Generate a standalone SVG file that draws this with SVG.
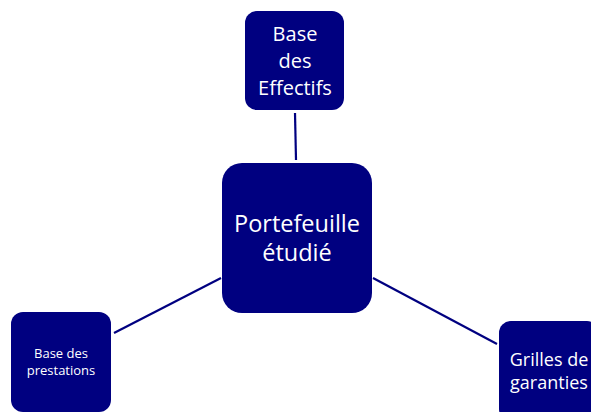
<svg xmlns="http://www.w3.org/2000/svg" width="591" height="412" viewBox="0 0 591 412">
<style>
.box{fill:#000080}
.lbl{fill:#ffffff;font-family:"Open Sans","Liberation Sans",sans-serif;text-anchor:middle}
.conn{stroke:#000080;stroke-width:2.2;fill:none}
</style>
<rect width="591" height="412" fill="#ffffff"/>
<g id="connectors">
<line class="conn" x1="295" y1="113" x2="296" y2="160"/>
<line class="conn" x1="221" y1="278" x2="114" y2="333"/>
<line class="conn" x1="373" y1="278" x2="497" y2="344"/>
</g>
<g id="base-effectifs">
<rect class="box" x="245" y="11" width="99" height="99" rx="12"/>
<text class="lbl" font-size="20" x="295" y="41">Base</text>
<text class="lbl" font-size="20" x="295" y="68">des</text>
<text class="lbl" font-size="20" x="295" y="95">Effectifs</text>
</g>
<g id="portefeuille">
<rect class="box" x="222" y="163" width="150" height="150" rx="20"/>
<text class="lbl" font-size="23.5" x="297" y="232">Portefeuille</text>
<text class="lbl" font-size="23.5" x="297" y="261">étudié</text>
</g>
<g id="base-prestations">
<rect class="box" x="11" y="312" width="100" height="100" rx="12"/>
<text class="lbl" font-size="13" x="61" y="358">Base des</text>
<text class="lbl" font-size="13" x="61" y="375">prestations</text>
</g>
<g id="grilles">
<rect class="box" x="499" y="321" width="100" height="100" rx="12"/>
<text class="lbl" font-size="18" x="549" y="366">Grilles de</text>
<text class="lbl" font-size="18" x="549" y="389">garanties</text>
</g>
</svg>
